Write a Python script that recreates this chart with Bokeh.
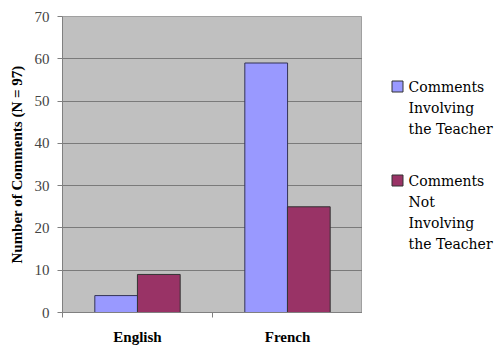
from bokeh.plotting import figure
from bokeh.layouts import row
from bokeh.core.properties import value
from bokeh.models import ColumnDataSource, FixedTicker, Range1d
from bokeh.embed import file_html
from bokeh.resources import INLINE
import numpy as np

# Comment counts per language of instruction
languages = ["English", "French"]
involving_teacher = [4, 59]
not_involving_teacher = [9, 25]
series_labels = ["Comments\nInvolving\nthe Teacher", "Comments\nNot\nInvolving\nthe Teacher"]
series_colors = ["#9999FF", "#993366"]
y_ticks = [0, 10, 20, 30, 40, 50, 60, 70]

SERIF = "Liberation Serif"
KEY_FONT = "DejaVu Serif"

centers = np.arange(len(languages)) + 0.5
bar_w = 0.285
offset = 0.142

src = ColumnDataSource(dict(
    x_inv=centers - offset,
    x_not=centers + offset,
    inv=involving_teacher,
    not_inv=not_involving_teacher,
))

TOP, BOTTOM, LEFT = 16, 33, 62
FRAME_W, FRAME_H = 300, 296

p = figure(
    frame_width=FRAME_W, frame_height=FRAME_H,
    min_border_left=LEFT, min_border_right=0,
    min_border_top=TOP, min_border_bottom=BOTTOM,
    x_range=Range1d(0, len(languages)), y_range=Range1d(0, 70),
    output_backend="svg", toolbar_location=None,
    background_fill_color="#C0C0C0", border_fill_color="white",
)
p.outline_line_color = "#A0A0A0"

p.vbar(x="x_inv", top="inv", width=bar_w, source=src,
       fill_color=series_colors[0], line_color="#333355", line_width=1)
p.vbar(x="x_not", top="not_inv", width=bar_w, source=src,
       fill_color=series_colors[1], line_color="#333333", line_width=1)

# y axis
p.yaxis.ticker = FixedTicker(ticks=y_ticks)
p.yaxis.axis_label = "Number of Comments (N = 97)"
p.yaxis.axis_label_text_font = SERIF
p.yaxis.axis_label_text_font_style = "bold"
p.yaxis.axis_label_text_font_size = "15px"
p.yaxis.axis_label_text_color = "black"
p.yaxis.axis_label_standoff = 7
p.yaxis.major_label_text_font = SERIF
p.yaxis.major_label_text_font_size = "15px"
p.yaxis.major_label_text_color = "#444444"
p.yaxis.major_label_standoff = 8
p.yaxis.major_tick_in = 0
p.yaxis.major_tick_out = 5
p.yaxis.minor_tick_line_color = None
p.yaxis.axis_line_color = "#808080"
p.yaxis.major_tick_line_color = "#808080"

# x axis: labels at category centres, ticks at category boundaries
p.xaxis.ticker = FixedTicker(ticks=list(centers),
                             minor_ticks=list(range(len(languages) + 1)))
p.xaxis.major_label_overrides = {float(c): name for c, name in zip(centers, languages)}
p.xaxis.major_label_text_font = SERIF
p.xaxis.major_label_text_font_style = "bold"
p.xaxis.major_label_text_font_size = "15px"
p.xaxis.major_label_text_color = "black"
p.xaxis.major_label_standoff = 11
p.xaxis.major_tick_line_color = None
p.xaxis.major_tick_in = 0
p.xaxis.major_tick_out = 0
p.xaxis.minor_tick_in = 0
p.xaxis.minor_tick_out = 5
p.xaxis.minor_tick_line_color = "#808080"
p.xaxis.axis_line_color = "#808080"

p.xgrid.grid_line_color = None
p.ygrid.grid_line_color = "#7A7A7A"
p.ygrid.grid_line_width = 1

# key panel to the right of the chart, in page pixels (y grows downward);
# its frame lines up with the chart frame vertically
KEY_W = 135
lf = figure(
    frame_width=KEY_W, frame_height=FRAME_H,
    min_border_left=0, min_border_right=0,
    min_border_top=TOP, min_border_bottom=BOTTOM,
    x_range=Range1d(0, KEY_W), y_range=Range1d(TOP + FRAME_H, TOP),
    x_axis_type=None, y_axis_type=None,
    output_backend="svg", toolbar_location=None,
)
lf.outline_line_color = None
lf.grid.grid_line_color = None

key_top, line_h, group_gap = 86, 21, 31
swatch_x, text_x, swatch_size = 35, 46, 11

sw_y, tx_y, tx = [], [], []
y = key_top
for label in series_labels:
    lines = label.split("\n")
    sw_y.append(y)
    for k, line in enumerate(lines):
        tx_y.append(y + k * line_h)
        tx.append(line)
    y += len(lines) * line_h + group_gap

lf.rect(x=[swatch_x] * len(sw_y), y=sw_y, width=swatch_size, height=swatch_size,
        fill_color=series_colors, line_color="#333333", line_width=1)
lf.text(x=[text_x] * len(tx), y=tx_y, text=tx,
        text_font=value(KEY_FONT), text_font_size="14px", text_color="black",
        text_baseline="middle", text_align="left")

layout = row(p, lf)
open("out.html", "w").write(file_html(layout, INLINE))
